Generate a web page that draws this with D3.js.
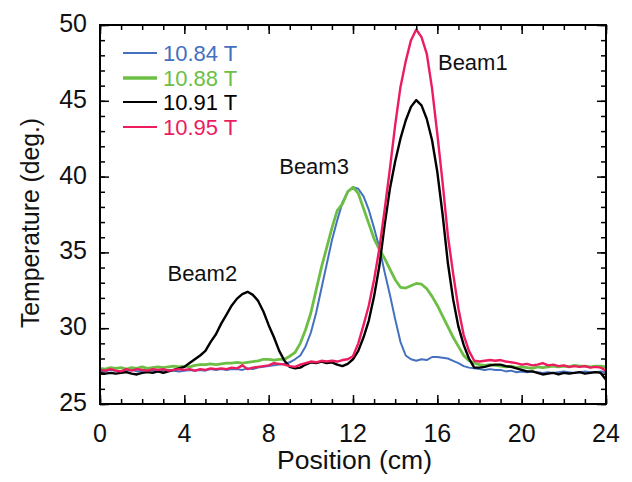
<!DOCTYPE html>
<html>
<head>
<meta charset="utf-8">
<script src="https://cdn.jsdelivr.net/npm/d3@7"></script>
<style>
  html, body { margin: 0; padding: 0; background: #fff; }
  svg { display: block; }
  text { font-family: "Liberation Sans", Arial, Helvetica, sans-serif; }
</style>
</head>
<body>
<svg id="chart" width="632" height="482"></svg>
<script>
// ---------- data ----------
const positions = d3.range(0, 24.001, 0.25); // cm, 97 samples

const t1084 = [27.2,27.15,27.25,27.2,27.15,27.2,27.25,27.15,27.2,27.25,27.2,27.15,27.2,27.25,27.2,27.15,
  27.2,27.25,27.2,27.25,27.2,27.3,27.25,27.3,27.25,27.3,27.3,27.25,27.35,27.3,27.4,27.45,
  27.5,27.55,27.6,27.65,27.75,27.95,28.2,28.8,29.7,31.0,32.6,34.2,35.8,37.1,38.3,39.0,
  39.3,39.2,38.7,37.8,36.6,35.3,33.7,32.2,30.6,29.1,28.2,27.95,27.85,27.95,27.9,28.1,
  28.1,28.05,28.0,27.85,27.7,27.5,27.4,27.35,27.3,27.25,27.3,27.25,27.25,27.15,27.2,27.1,
  27.15,27.1,27.15,27.1,27.05,27.1,27.05,27.1,27.15,27.1,27.05,27.1,27.15,27.1,27.1,27.15,27.1];

const t1088 = [27.35,27.3,27.4,27.35,27.4,27.3,27.4,27.35,27.45,27.35,27.4,27.45,27.4,27.45,27.5,27.45,
  27.5,27.45,27.55,27.6,27.6,27.65,27.6,27.65,27.7,27.7,27.75,27.7,27.75,27.8,27.85,27.95,
  27.95,27.9,27.95,27.95,28.15,28.4,29.0,29.9,31.0,32.5,34.0,35.3,36.6,37.75,38.2,39.0,
  39.3,38.9,37.9,36.9,35.9,35.2,34.6,33.9,33.2,32.7,32.65,32.8,32.95,32.9,32.6,32.1,
  31.5,30.8,30.1,29.4,28.8,28.2,27.85,27.7,27.6,27.55,27.6,27.55,27.5,27.45,27.5,27.4,
  27.45,27.4,27.35,27.45,27.4,27.45,27.5,27.45,27.5,27.45,27.55,27.5,27.5,27.45,27.5,27.5,27.45];

const t1091 = [27.05,27.0,27.05,27.0,27.05,27.1,27.0,26.95,27.05,27.1,27.05,27.15,27.05,27.15,27.25,27.35,
  27.45,27.7,27.95,28.2,28.5,29.1,29.6,30.3,30.9,31.5,31.95,32.25,32.4,32.2,31.8,31.1,
  30.2,29.4,28.5,27.85,27.45,27.35,27.4,27.6,27.75,27.7,27.8,27.7,27.75,27.6,27.5,27.65,
  27.95,28.5,29.4,30.5,32.1,34.1,36.8,39.2,41.0,42.5,43.7,44.6,45.05,44.7,43.8,42.4,
  40.3,37.5,34.3,31.9,30.1,28.9,28.0,27.4,27.4,27.45,27.55,27.6,27.6,27.5,27.45,27.35,
  27.25,27.15,27.15,27.05,26.95,27.0,27.05,26.95,27.05,27.0,27.05,27.1,27.0,27.05,27.1,27.05,26.6];

const t1095 = [27.25,27.2,27.3,27.2,27.15,27.3,27.2,27.3,27.25,27.2,27.3,27.25,27.3,27.2,27.25,27.3,
  27.25,27.3,27.2,27.3,27.25,27.35,27.3,27.35,27.3,27.4,27.35,27.55,27.3,27.4,27.45,27.5,
  27.55,27.7,27.65,27.6,27.5,27.45,27.6,27.7,27.8,27.75,27.85,27.8,27.85,27.8,27.9,27.95,
  28.15,29.0,30.2,31.5,33.2,35.25,37.8,40.5,43.4,45.9,47.6,49.0,49.7,49.2,48.1,45.8,
  42.8,39.6,36.1,33.6,31.3,29.55,28.5,27.85,27.8,27.85,27.9,27.85,27.9,27.8,27.75,27.7,
  27.6,27.65,27.55,27.6,27.7,27.55,27.6,27.5,27.55,27.45,27.5,27.45,27.5,27.4,27.45,27.4,27.2];

const seriesNames = ["10.84 T", "10.88 T", "10.91 T", "10.95 T"];
const seriesValues = [t1084, t1088, t1091, t1095];
const seriesColors = ["#4470c0", "#6cbf44", "#000000", "#ec1c5e"];
const seriesWidths = [2, 2.8, 2.4, 2.4];
const legendWidths = [2, 3.5, 2, 2];

const xMajorTicks = [0, 4, 8, 12, 16, 20, 24];
const yMajorTicks = [25, 30, 35, 40, 45, 50];
const xLabel = "Position (cm)";
const yLabel = "Temperature (deg.)";

const annotations = [
  { text: "Beam1", x: 16.03, y: 47.0 },
  { text: "Beam3", x: 8.5, y: 40.2 },
  { text: "Beam2", x: 3.2, y: 33.1 }
];

// ---------- layout ----------
const svg = d3.select("#chart");
const L = 100, R = 606, T = 25, B = 404;
const x = d3.scaleLinear().domain([0, 24]).range([L, R]);
const y = d3.scaleLinear().domain([25, 50]).range([B, T]);

svg.append("defs").append("clipPath").attr("id", "clip")
  .append("rect").attr("x", L).attr("y", T).attr("width", R - L).attr("height", B - T);

// series lines
const line = d3.line().x((d, i) => x(positions[i])).y(d => y(d));
const g = svg.append("g").attr("clip-path", "url(#clip)");
seriesValues.forEach((vals, k) => {
  g.append("path").datum(vals)
    .attr("d", line)
    .attr("fill", "none")
    .attr("stroke", seriesColors[k])
    .attr("stroke-width", seriesWidths[k])
    .attr("stroke-linejoin", "round");
});

// axes (ticks inward on all four sides)
const xMinor = d3.range(0, 24.001, 1);
const yMinor = d3.range(25, 50.001, 1);
const tickStyle = sel => sel.attr("stroke", "#000").attr("stroke-width", 1.5);
function addAxis(axis, tx, ty) {
  const a = svg.append("g").attr("transform", `translate(${tx},${ty})`).call(axis);
  a.select(".domain").remove();
  a.selectAll("line").call(tickStyle);
  a.selectAll("text").remove();
  return a;
}
// minor
addAxis(d3.axisBottom(x).tickValues(xMinor).tickSizeInner(-5).tickSizeOuter(0), 0, B);
addAxis(d3.axisTop(x).tickValues(xMinor).tickSizeInner(-5).tickSizeOuter(0), 0, T);
addAxis(d3.axisLeft(y).tickValues(yMinor).tickSizeInner(-5).tickSizeOuter(0), L, 0);
addAxis(d3.axisRight(y).tickValues(yMinor).tickSizeInner(-5).tickSizeOuter(0), R, 0);
// major
addAxis(d3.axisBottom(x).tickValues(xMajorTicks).tickSizeInner(-9).tickSizeOuter(0), 0, B);
addAxis(d3.axisTop(x).tickValues(xMajorTicks).tickSizeInner(-9).tickSizeOuter(0), 0, T);
addAxis(d3.axisLeft(y).tickValues(yMajorTicks).tickSizeInner(-9).tickSizeOuter(0), L, 0);
addAxis(d3.axisRight(y).tickValues(yMajorTicks).tickSizeInner(-9).tickSizeOuter(0), R, 0);

// frame
svg.append("rect").attr("x", L).attr("y", T).attr("width", R - L).attr("height", B - T)
  .attr("fill", "none").attr("stroke", "#000").attr("stroke-width", 2);

// tick labels
svg.append("g").selectAll("text").data(xMajorTicks).join("text")
  .attr("x", d => x(d)).attr("y", 442)
  .attr("text-anchor", "middle").attr("font-size", 25).attr("fill", "#111")
  .text(d => d);
svg.append("g").selectAll("text").data(yMajorTicks).join("text")
  .attr("x", 87).attr("y", d => y(d) + 7)
  .attr("text-anchor", "end").attr("font-size", 25).attr("fill", "#111")
  .text(d => d);

// axis titles
svg.append("text").attr("x", 354.5).attr("y", 469)
  .attr("text-anchor", "middle").attr("font-size", 26.5).attr("fill", "#111")
  .attr("textLength", 155).attr("lengthAdjust", "spacingAndGlyphs")
  .text(xLabel);
svg.append("text").attr("transform", "translate(39,223) rotate(-90)")
  .attr("text-anchor", "middle").attr("font-size", 25).attr("fill", "#111")
  .attr("textLength", 210).attr("lengthAdjust", "spacingAndGlyphs")
  .text(yLabel);

// legend
const legRows = [53, 78, 102, 127];
seriesNames.forEach((name, k) => {
  svg.append("line").attr("x1", 123).attr("x2", 157)
    .attr("y1", legRows[k]).attr("y2", legRows[k])
    .attr("stroke", seriesColors[k]).attr("stroke-width", legendWidths[k]);
  svg.append("text").attr("x", 163).attr("y", legRows[k] + 8)
    .attr("font-size", 22).attr("fill", seriesColors[k]).text(name);
});

// annotations
svg.append("g").selectAll("text").data(annotations).join("text")
  .attr("x", d => x(d.x)).attr("y", d => y(d.y))
  .attr("font-size", 22).attr("fill", "#111")
  .text(d => d.text);
</script>
</body>
</html>
